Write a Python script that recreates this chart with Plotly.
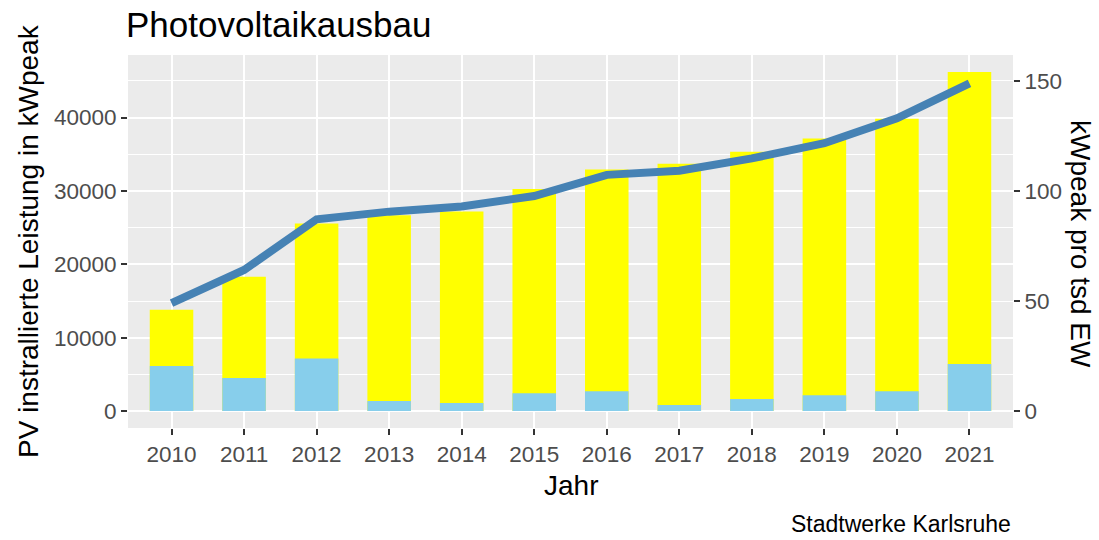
import plotly.graph_objects as go

years = ["2010", "2011", "2012", "2013", "2014", "2015", "2016", "2017", "2018", "2019", "2020", "2021"]
total_kwp = [13800, 18300, 25550, 26700, 27200, 30280, 32920, 33700, 35330, 37160, 39850, 46220]
added_kwp = [6150, 4500, 7150, 1370, 1100, 2410, 2690, 820, 1640, 2140, 2690, 6420]
kwp_per_tsd_ew = [49.0, 64.1, 87.1, 90.6, 92.9, 97.7, 107.3, 109.2, 114.8, 121.7, 133.0, 148.9]

left_ticks = [0, 10000, 20000, 30000, 40000]
left_minor = [5000, 15000, 25000, 35000, 45000]
right_ticks = [0, 50, 100, 150]
SCALE = 300  # secondary axis = primary / 300

FONT = "Liberation Sans, Arial, sans-serif"
x = list(range(len(years)))

ymax = max(total_kwp)
y_range = [-0.05 * ymax, 1.05 * ymax]

fig = go.Figure()
fig.add_trace(go.Bar(x=x, y=total_kwp, width=0.6, marker=dict(color="#FFFF00", line=dict(width=0)),
                     yaxis="y", showlegend=False))
fig.add_trace(go.Bar(x=x, y=added_kwp, width=0.6, marker=dict(color="#87CEEB", line=dict(width=0)),
                     yaxis="y", showlegend=False))
fig.add_trace(go.Scatter(x=x, y=kwp_per_tsd_ew, mode="lines", line=dict(color="#4682B4", width=8),
                         yaxis="y2", showlegend=False))

# panel in page coords: x 128..1013, y 55..428 (body margin removed below)
PL, PT, PR, PB = 128, 55, 1013, 428
W, H = 1099, 540
L, T = PL, PT
R = W - PR
B = H - PB
pw = PR - PL
ph = PB - PT

def px_x(px):
    return (px - PL) / pw

def px_y(py):
    return 1 - (py - PT) / ph

tick_common = dict(ticks="outside", ticklen=6, tickwidth=1.6, tickcolor="#333333",
                   tickfont=dict(size=22.5, color="#4D4D4D", family=FONT),
                   zeroline=False, showline=False)

fig.update_layout(
    width=W, height=H,
    margin=dict(l=L, r=R, t=T, b=B, pad=0),
    paper_bgcolor="white",
    plot_bgcolor="#EBEBEB",
    barmode="overlay",
    font=dict(family=FONT, color="#4D4D4D"),
    xaxis=dict(
        range=[-0.6, len(years) - 0.4],
        tickmode="array", tickvals=x, ticktext=years,
        showgrid=True, gridcolor="white", gridwidth=2,
        **tick_common,
    ),
    yaxis=dict(
        range=y_range,
        tickmode="array", tickvals=left_ticks, ticktext=[str(v) for v in left_ticks],
        showgrid=True, gridcolor="white", gridwidth=2,
        minor=dict(tickmode="array", tickvals=left_minor,
                   showgrid=True, gridcolor="white", gridwidth=1, ticks=""),
        **tick_common,
    ),
    yaxis2=dict(
        overlaying="y", side="right",
        range=[y_range[0] / SCALE, y_range[1] / SCALE],
        tickmode="array", tickvals=right_ticks, ticktext=[str(v) for v in right_ticks],
        showgrid=False,
        **tick_common,
    ),
    annotations=[
        dict(text="Photovoltaikausbau", xref="paper", yref="paper", x=px_x(124), y=px_y(25),
             xanchor="left", yanchor="middle", showarrow=False,
             font=dict(size=35, color="black", family=FONT)),
        dict(text="Jahr", xref="paper", yref="paper", x=px_x(571), y=px_y(485),
             xanchor="center", yanchor="middle", showarrow=False,
             font=dict(size=28, color="black", family=FONT)),
        dict(text="PV instrallierte Leistung in kWpeak", xref="paper", yref="paper", x=px_x(28), y=px_y(241),
             xanchor="center", yanchor="middle", textangle=-90, showarrow=False,
             font=dict(size=28, color="black", family=FONT)),
        dict(text="kWpeak pro tsd EW", xref="paper", yref="paper", x=px_x(1081), y=px_y(244),
             xanchor="center", yanchor="middle", textangle=90, showarrow=False,
             font=dict(size=28, color="black", family=FONT)),
        dict(text="Stadtwerke Karlsruhe", xref="paper", yref="paper", x=px_x(1013), y=px_y(524),
             xanchor="right", yanchor="middle", showarrow=False,
             font=dict(size=23, color="black", family=FONT)),
    ],
)

fig.write_html("out.html", config={"displayModeBar": False},
               post_script="document.body.style.margin='0';document.body.style.padding='0';")
